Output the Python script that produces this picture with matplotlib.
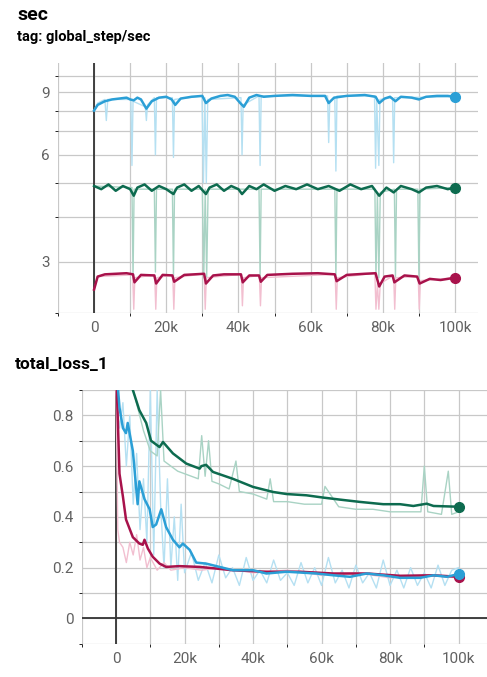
import numpy as np
import matplotlib
matplotlib.use('Agg')
import matplotlib.pyplot as plt
from matplotlib.ticker import FixedLocator, NullFormatter, FuncFormatter

plt.rcParams['font.family'] = ['Roboto', 'DejaVu Sans']

# Colores de las tres corridas (estilo TensorBoard)
c_blue = '#2b9fd6'
c_green = '#0d6b4f'
c_red = '#a8124b'
c_blue_raw = '#b5e0f2'
c_green_raw = '#a9d3c4'
c_red_raw = '#f2bfd0'

# ---- sec (global_step/sec), x en miles de pasos ----
sec_blue_x = [0, 1, 3, 5, 7, 9, 10, 11, 12, 13, 14.5, 16, 18, 20, 21.5, 22.5, 24, 27, 30, 31, 32.5,
              35, 37, 39, 40.5, 41.5, 43, 45, 47, 50, 55, 60, 64, 65, 66.5, 70, 75, 78, 79, 80.5,
              82, 83.5, 85, 88, 90, 92, 95, 98, 100]
sec_blue_y = [8.0, 8.3, 8.5, 8.6, 8.65, 8.7, 8.6, 8.55, 8.7, 8.6, 8.1, 8.5, 8.7, 8.75, 8.6, 8.3, 8.65,
              8.75, 8.8, 8.4, 8.65, 8.8, 8.85, 8.75, 8.4, 8.2, 8.7, 8.85, 8.75, 8.8, 8.85, 8.8, 8.8,
              8.4, 8.7, 8.8, 8.85, 8.75, 8.4, 8.65, 8.75, 8.5, 8.75, 8.7, 8.6, 8.75, 8.8, 8.8, 8.75]

sec_green_x = [0, 2, 4, 6, 8, 10, 11, 12, 14, 16, 18, 20, 22, 23, 25, 27, 29, 31, 32, 34, 36, 38,
               40, 41, 43, 45, 47, 50, 53, 56, 59, 62, 65, 68, 71, 74, 77, 79, 81, 83, 85, 88, 90,
               92, 95, 98, 100]
sec_green_y = [4.9, 4.8, 4.95, 4.75, 4.9, 4.8, 4.6, 4.85, 4.95, 4.75, 4.9, 4.8, 4.65, 4.85, 4.95,
               4.75, 4.9, 4.65, 4.85, 4.95, 4.75, 4.9, 4.8, 4.65, 4.9, 4.8, 4.95, 4.75, 4.9, 4.8,
               4.95, 4.8, 4.9, 4.75, 4.95, 4.8, 4.9, 4.6, 4.85, 4.7, 4.9, 4.8, 4.7, 4.85, 4.9,
               4.8, 4.85]

sec_red_x = [0, 1, 3, 6, 9, 10.8, 11.2, 13, 16.7, 17.2, 19, 21.7, 22.2, 25, 30.5, 31, 33, 36, 40.7,
             41.2, 43, 45.7, 46.2, 48, 55, 62, 66.7, 67.2, 70, 75, 78, 79, 80.5, 82.7, 83.2, 86, 89.5,
             90.2, 93, 96, 100]
sec_red_y = [2.5, 2.72, 2.76, 2.77, 2.78, 2.76, 2.62, 2.75, 2.74, 2.6, 2.75, 2.74, 2.63, 2.75, 2.77,
             2.6, 2.74, 2.76, 2.76, 2.62, 2.74, 2.74, 2.63, 2.75, 2.77, 2.78, 2.76, 2.64, 2.75, 2.77,
             2.78, 2.55, 2.72, 2.74, 2.62, 2.74, 2.72, 2.6, 2.68, 2.66, 2.7]

# valores crudos (caidas puntuales)
sec_blue_raw_x = [0, 1, 3.0, 3.4, 3.8, 10.2, 10.5, 10.8, 14.2, 14.5, 14.8, 16.7, 17.0, 17.3, 21.7,
                  22.0, 22.3, 29.9, 30.3, 30.7, 31.1, 31.5, 40.7, 41.0, 41.3, 45.7, 46.0, 46.3, 64.7,
                  65.0, 65.3, 66.7, 67.0, 67.3, 77.7, 78.0, 78.3, 78.9, 79.2, 82.7, 83.0, 83.3, 100]
sec_blue_raw_y = [8.0, 8.4, 8.6, 7.5, 8.6, 8.6, 5.6, 8.5, 8.2, 7.5, 8.3, 8.7, 6.0, 8.7, 8.7, 5.9,
                  8.6, 8.8, 5.0, 8.7, 5.0, 8.6, 8.7, 6.0, 8.3, 8.8, 5.6, 8.8, 8.8, 6.5, 8.5, 8.7,
                  5.4, 8.8, 8.8, 5.5, 8.6, 5.6, 8.6, 8.7, 5.7, 8.7, 8.75]
sec_green_raw_x = [0, 10.5, 10.8, 11.1, 16.7, 17.0, 17.3, 21.7, 22.0, 22.3, 30.0, 30.4, 30.8, 31.2,
                   31.6, 45.7, 46.0, 46.3, 66.7, 67.0, 67.3, 77.8, 78.1, 78.5, 78.9, 79.3, 83.2,
                   83.5, 83.8, 89.7, 90.0, 90.3, 100]
sec_green_raw_y = [4.9, 4.85, 2.7, 4.8, 4.8, 2.8, 4.8, 4.8, 2.7, 4.8, 4.8, 2.7, 4.8, 2.7, 4.8,
                   4.8, 2.7, 4.8, 4.8, 2.7, 4.8, 4.8, 2.7, 4.7, 2.7, 4.7, 4.8, 2.7, 4.8, 4.8, 2.7,
                   4.8, 4.85]
sec_red_raw_x = [0, 1, 10.7, 11.0, 11.3, 16.8, 17.1, 17.4, 21.8, 22.1, 22.4, 30.5, 30.8, 31.1, 40.8,
                 41.1, 41.4, 45.8, 46.1, 46.4, 66.8, 67.1, 67.4, 77.8, 78.1, 78.5, 78.9, 79.3, 83.0,
                 83.3, 83.6, 89.8, 90.1, 90.4, 100]
sec_red_raw_y = [2.5, 2.72, 2.75, 2.2, 2.7, 2.75, 2.2, 2.7, 2.75, 2.2, 2.7, 2.77, 2.2, 2.7, 2.76,
                 2.25, 2.7, 2.74, 2.25, 2.7, 2.76, 2.2, 2.7, 2.78, 2.2, 2.6, 2.2, 2.6, 2.74, 2.2,
                 2.7, 2.72, 2.2, 2.65, 2.7]

# ---- total_loss_1 ----
loss_green_x = [4.9, 6.8, 8.8, 10.2, 12.7, 13.7, 16.6, 20.5, 24.4, 24.9, 26.3, 28.3, 34.1, 40, 45.9,
                49.8, 55.6, 60.5, 65.4, 71.2, 78, 82.9, 86.8, 90.7, 92.7, 100]
loss_green_y = [0.9, 0.82, 0.77, 0.70, 0.675, 0.695, 0.65, 0.61, 0.59, 0.60, 0.605, 0.577, 0.55,
                0.518, 0.498, 0.49, 0.485, 0.476, 0.468, 0.459, 0.45, 0.45, 0.443, 0.452, 0.443,
                0.44]
loss_blue_x = [0, 1, 2, 2.9, 3.4, 4.9, 6.3, 6.8, 8.3, 9.8, 10.7, 11.7, 13.2, 14.6, 16.6, 18.5, 19.5,
               21.5, 23.4, 26.3, 30.2, 34.1, 40, 43.9, 49.8, 58.5, 63.4, 68.3, 73.2, 78, 82.9,
               88.8, 92.7, 96.6, 100]
loss_blue_y = [1.0, 0.83, 0.75, 0.73, 0.77, 0.66, 0.45, 0.54, 0.47, 0.43, 0.36, 0.37, 0.43, 0.36,
               0.31, 0.28, 0.295, 0.27, 0.22, 0.216, 0.203, 0.19, 0.19, 0.177, 0.184, 0.177, 0.17,
               0.164, 0.177, 0.17, 0.16, 0.16, 0.17, 0.164, 0.175]
loss_red_x = [0, 1, 2, 2.9, 4.9, 6.8, 7.8, 8.3, 9.3, 10.7, 12.7, 14.6, 18.5, 24.4, 34, 43.9, 53.7,
              63.4, 73.2, 82.9, 92.7, 100]
loss_red_y = [1.0, 0.57, 0.48, 0.39, 0.32, 0.295, 0.29, 0.31, 0.275, 0.243, 0.216, 0.203, 0.206,
              0.203, 0.19, 0.184, 0.184, 0.177, 0.177, 0.168, 0.17, 0.164]

loss_blue_raw_x = [0, 1, 2, 3, 4, 5, 6, 7, 8, 9, 10, 11, 12, 13, 14, 15, 16, 17, 18, 19,
                   20, 22, 24, 26, 28, 30, 32, 34, 36, 38, 40, 42, 44, 46, 48, 50, 52, 54, 56, 58,
                   60, 62, 64, 66, 68, 70, 72, 74, 76, 78, 80, 82, 84, 86, 88, 90, 92, 94, 96, 98,
                   100]
loss_blue_raw_y = [0.9, 0.75, 0.85, 0.6, 0.8, 0.45, 0.65, 0.35, 0.55, 0.3, 0.9, 0.25, 0.9, 0.45,
                   0.2, 0.55, 0.2, 0.4, 0.15, 0.45,
                   0.18, 0.26, 0.15, 0.22, 0.14, 0.25, 0.16, 0.2, 0.13, 0.24, 0.15, 0.19, 0.14,
                   0.23, 0.15, 0.18, 0.13, 0.22, 0.14, 0.2, 0.13, 0.24, 0.14, 0.19, 0.12, 0.21,
                   0.14, 0.18, 0.12, 0.23, 0.13, 0.19, 0.12, 0.2, 0.13, 0.18, 0.12, 0.21, 0.13,
                   0.19, 0.2]
loss_green_raw_x = [5, 8, 10, 12, 13, 14, 16, 18, 20, 22, 24, 25, 26, 27, 28, 30, 33, 35, 36, 40,
                    44, 45, 46, 50, 55, 60, 61, 65, 70, 75, 80, 85, 89, 90, 91, 95, 97, 98, 100]
loss_green_raw_y = [0.9, 0.74, 0.66, 0.64, 0.9, 0.62, 0.6, 0.58, 0.57, 0.56, 0.55, 0.72, 0.56,
                    0.7, 0.54, 0.53, 0.51, 0.62, 0.5, 0.49, 0.47, 0.55, 0.46, 0.46, 0.45, 0.45,
                    0.52, 0.44, 0.43, 0.43, 0.42, 0.42, 0.42, 0.6, 0.42, 0.41, 0.58, 0.41, 0.42]
loss_red_raw_x = [0, 0.5, 1, 2, 3, 4, 5, 6, 7, 8, 9, 10, 12, 14, 16, 20, 25, 30, 40, 50, 60, 70,
                  80, 90, 100]
loss_red_raw_y = [0.9, 0.35, 0.3, 0.28, 0.22, 0.3, 0.25, 0.33, 0.23, 0.28, 0.2, 0.24, 0.19, 0.22,
                  0.19, 0.2, 0.19, 0.2, 0.18, 0.19, 0.17, 0.18, 0.16, 0.17, 0.16]

kfmt = FuncFormatter(lambda v, p: '0' if v == 0 else '{:d}k'.format(int(round(v))))
tick_color = '#616161'
grid_color = '#c8c8c8'


def style_axes(ax):
    for s in ax.spines.values():
        s.set_visible(False)
    ax.tick_params(length=0, colors=tick_color, labelsize=11, pad=6)
    ax.xaxis.set_major_locator(FixedLocator([0, 20, 40, 60, 80, 100]))
    ax.xaxis.set_major_formatter(kfmt)
    ax.set_xticks(np.arange(-10, 101, 10), minor=True)
    ax.grid(which='both', color=grid_color, lw=0.9)
    ax.set_axisbelow(True)


fig = plt.figure(figsize=(4.87, 6.77), dpi=100)

# panel superior
ax1 = fig.add_axes([0.119, 0.538, 0.862, 0.369])
ax1.set_yscale('log')
ax1.set_xlim(-10, 106.3)
ax1.set_ylim(2.15, 10.9)
style_axes(ax1)
ax1.yaxis.set_major_locator(FixedLocator([3, 6, 9]))
ax1.yaxis.set_major_formatter(FuncFormatter(lambda v, p: '{:d}'.format(int(round(v)))))
ax1.yaxis.set_minor_locator(FixedLocator([2.15, 4, 5, 7, 8, 10]))
ax1.yaxis.set_minor_formatter(NullFormatter())
ax1.axvline(0, color='#333333', lw=1.3, zorder=1)

for xs, ys, c in [(sec_blue_raw_x, sec_blue_raw_y, c_blue_raw),
                  (sec_green_raw_x, sec_green_raw_y, c_green_raw),
                  (sec_red_raw_x, sec_red_raw_y, c_red_raw)]:
    ax1.plot(xs, ys, color=c, lw=1.0, zorder=2)
for xs, ys, c in [(sec_blue_x, sec_blue_y, c_blue),
                  (sec_green_x, sec_green_y, c_green),
                  (sec_red_x, sec_red_y, c_red)]:
    ax1.plot(xs, ys, color=c, lw=1.8, zorder=3)
    ax1.plot(xs[-1], ys[-1], 'o', color=c, ms=7, zorder=4, clip_on=False)

# panel inferior
ax2 = fig.add_axes([0.168, 0.049, 0.832, 0.375])
ax2.set_xlim(-10, 108.3)
ax2.set_ylim(-0.1, 0.9)
style_axes(ax2)
ax2.yaxis.set_major_locator(FixedLocator([0, 0.2, 0.4, 0.6, 0.8]))
ax2.yaxis.set_major_formatter(FuncFormatter(lambda v, p: '0' if abs(v) < 1e-9 else '{:.1f}'.format(v)))
ax2.set_yticks(np.arange(-0.1, 0.91, 0.1), minor=True)
ax2.axvline(0, color='#333333', lw=1.3, zorder=1)
ax2.axhline(0, color='#333333', lw=1.3, zorder=1)

for xs, ys, c in [(loss_blue_raw_x, loss_blue_raw_y, c_blue_raw),
                  (loss_green_raw_x, loss_green_raw_y, c_green_raw),
                  (loss_red_raw_x, loss_red_raw_y, c_red_raw)]:
    ax2.plot(xs, ys, color=c, lw=1.0, zorder=2)
for xs, ys, c in [(loss_green_x, loss_green_y, c_green),
                  (loss_red_x, loss_red_y, c_red),
                  (loss_blue_x, loss_blue_y, c_blue)]:
    ax2.plot(xs, ys, color=c, lw=1.8, zorder=3)
    ax2.plot(xs[-1], ys[-1], 'o', color=c, ms=7, zorder=4)

fig.text(0.035, 0.978, 'sec', fontsize=14, fontweight='bold', va='center')
fig.text(0.035, 0.945, 'tag: global_step/sec', fontsize=10.5, fontweight='bold', va='center')
fig.text(0.031, 0.461, 'total_loss_1', fontsize=12.5, fontweight='bold', va='center')

fig.savefig('out.png', dpi=100)
